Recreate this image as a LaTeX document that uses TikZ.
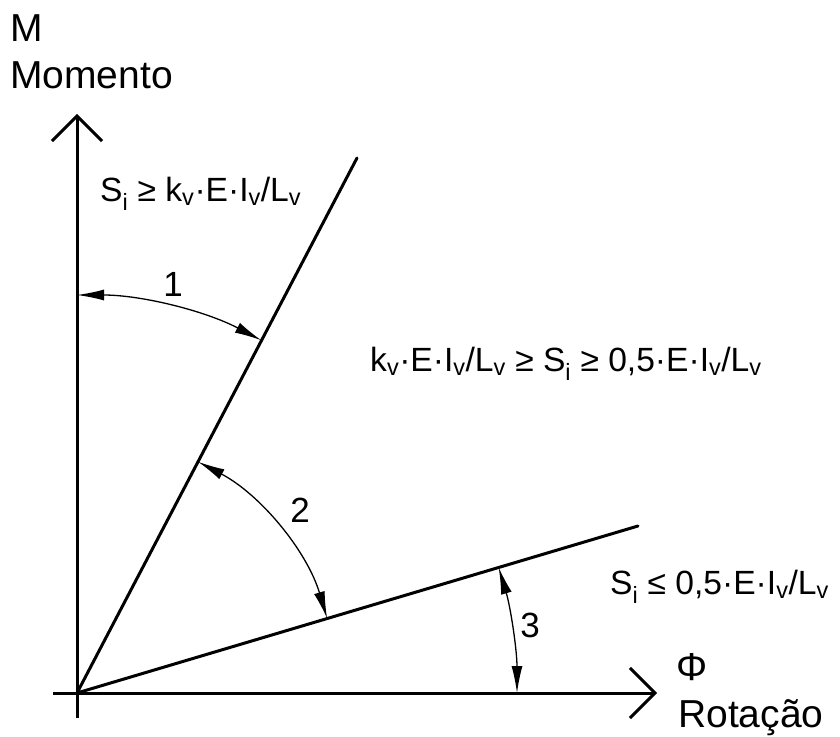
\documentclass[tikz,border=0pt]{standalone}
\usepackage{fontspec}
\setmainfont{Liberation Sans}
\usetikzlibrary{arrows.meta,calc}
\newcommand\sbs[1]{\textsubscript{#1}}
\begin{document}
\begin{tikzpicture}[x=1pt,y=1pt,
  axisarrow/.style={line width=3pt,-{Straight Barb[length=25pt,width=50pt,line width=3pt]}},
  bound/.style={line width=3pt,line cap=round},
  dim/.style={line width=1.3pt,{Latex[length=27pt,width=11pt]}-{Latex[length=27pt,width=11pt]}},
  formula/.style={anchor=base west,inner sep=0pt,font=\fontsize{33.6}{40}\selectfont},
  num/.style={anchor=base,inner sep=0pt,font=\fontsize{35}{40}\selectfont},
  axlabel/.style={anchor=base west,inner sep=0pt,font=\fontsize{39}{44}\selectfont}]
\useasboundingbox (0,0) rectangle (840,736);
\coordinate (O) at (77,43);
\coordinate (Vb) at (77,18);
\coordinate (Vt) at (77,622);
\coordinate (Hl) at (53,43);
\coordinate (Ht) at (657,43);
\coordinate (L1) at (357,578);
\coordinate (L3) at (638,210);
% axes
\draw[axisarrow] (Vb) -- (Vt);
\draw[axisarrow] (Hl) -- (Ht);
% boundary lines
\draw[bound] (O) -- (L1);
\draw[bound] (O) -- (L3);
% dimension arcs
\draw[dim] ($(O)+(90:398)$) arc[start angle=90,end angle=62.4,radius=398];
\draw[dim] ($(O)+(62.4:261)$) arc[start angle=62.4,end angle=16.6,radius=261];
\draw[dim] ($(O)+(16.6:440)$) arc[start angle=16.6,end angle=0,radius=440];
% numbers
\node[num] (n1) at (173,439) {1};
\node[num] (n2) at (300,213) {2};
\node[num] (n3) at (530,99) {3};
% formulas
\node[formula] (f1) at (100,534) {S\sbs{i} ≥ k\sbs{v}·E·I\sbs{v}/L\sbs{v}};
\node[formula] (f2) at (370,364) {k\sbs{v}·E·I\sbs{v}/L\sbs{v} ≥ S\sbs{i} ≥ 0,5·E·I\sbs{v}/L\sbs{v}};
\node[formula] (f3) at (610,141) {S\sbs{i} ≤ 0,5·E·I\sbs{v}/L\sbs{v}};
% axis labels
\node[axlabel] (M) at (10,694) {M};
\node[axlabel] (Mom) at (10,647) {Momento};
\node[anchor=base,inner sep=0pt,font=\fontsize{39}{44}\selectfont] (Phi) at (692,56) {Φ};
\node[axlabel] (Rot) at (678,9) {Rotação};
\end{tikzpicture}
\end{document}
